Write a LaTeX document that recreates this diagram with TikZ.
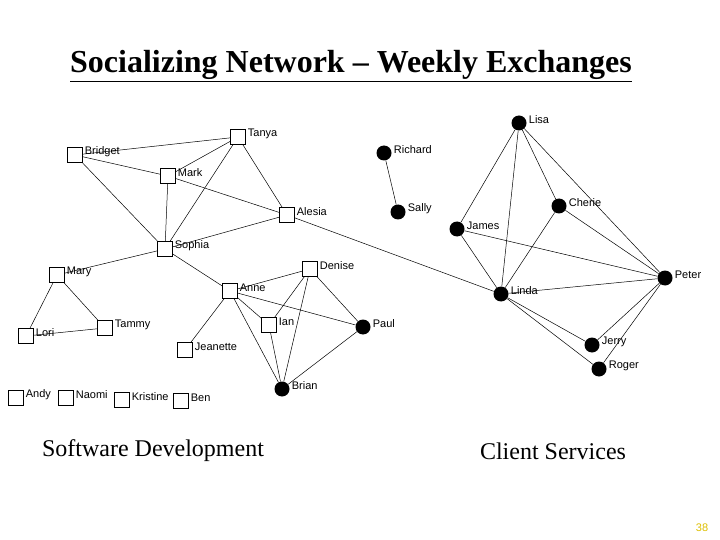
\documentclass[tikz,border=0pt]{standalone}
\usepackage{fontspec}
\setmainfont{Liberation Serif}
\newfontfamily\lab{Liberation Sans}
\begin{document}
\begin{tikzpicture}[x=1pt,y=-1pt,
 sq/.style={draw,thin,minimum size=15pt,inner sep=0pt},
 dot/.style={circle,fill=black,minimum size=15pt,inner sep=0pt},
 nm/.style={font=\lab\fontsize{11}{13}\selectfont,anchor=west,inner sep=1pt},
 ed/.style={draw,line width=0.5pt}]
\useasboundingbox (0,0) rectangle (720,540);
\node[font=\bfseries\fontsize{32}{36}\selectfont] (title) at (351,66) {\underline{Socializing Network – Weekly Exchanges}};
\foreach \n/\x/\y/\t in {Tanya/238/137/Tanya,Bridget/75/155/Bridget,Mark/168/176/Mark,Alesia/287/215/Alesia,Sophia/165/249/Sophia,Mary/57/275/Mary,Lori/26/336/Lori,Tammy/105/328/Tammy,Anne/230/291/Anne,Denise/310/269/Denise,Ian/269/325/Ian,Jeanette/185/350/Jeanette,Andy/16/398/Andy,Naomi/66/398/Naomi,Kristine/122/400/Kristine,Ben/181/401/Ben}{
 \node[sq] (\n) at (\x,\y) {};
 \node[nm] (\n-l) at ([xshift=1pt,yshift=3pt]\n.east) {\t};
}
\foreach \n/\x/\y/\t in {Brian/282/389/Brian,Paul/363/327/Paul,Lisa/519/123/Lisa,Richard/384/153/Richard,Sally/398/212/Sally,James/457/229/James,Cherie/559/206/Cherie,Peter/665/278/Peter,Linda/501/294/Linda,Jerry/592/345/Jerry,Roger/599/369/Roger}{
 \node[dot] (\n) at (\x,\y) {};
 \node[nm] (\n-l) at ([xshift=1pt,yshift=3pt]\n.east) {\t};
}
\foreach \a/\b in {Bridget/Tanya,Bridget/Mark,Bridget/Sophia,Mark/Tanya,Mark/Sophia,Mark/Alesia,Tanya/Sophia,Tanya/Alesia,Sophia/Alesia,Alesia/Linda,Sophia/Mary,Sophia/Anne,Mary/Lori,Mary/Tammy,Lori/Tammy,Anne/Denise,Anne/Jeanette,Anne/Ian,Anne/Brian,Anne/Paul,Denise/Ian,Denise/Brian,Denise/Paul,Ian/Brian,Paul/Brian,Richard/Sally,Lisa/James,Lisa/Linda,Lisa/Cherie,Lisa/Peter,James/Linda,James/Peter,Cherie/Linda,Cherie/Peter,Linda/Peter,Linda/Jerry,Linda/Roger,Peter/Jerry,Peter/Roger}
 \draw[ed] (\a) -- (\b);
\node[font=\fontsize{24}{28}\selectfont] (sd) at (153,451) {Software Development};
\node[font=\fontsize{24}{28}\selectfont] (cs) at (553,451) {Client Services};
\node[font=\lab\fontsize{11}{13}\selectfont,text={rgb,255:red,220;green,190;blue,0}] (pg) at (702,528) {38};
\end{tikzpicture}
\end{document}
